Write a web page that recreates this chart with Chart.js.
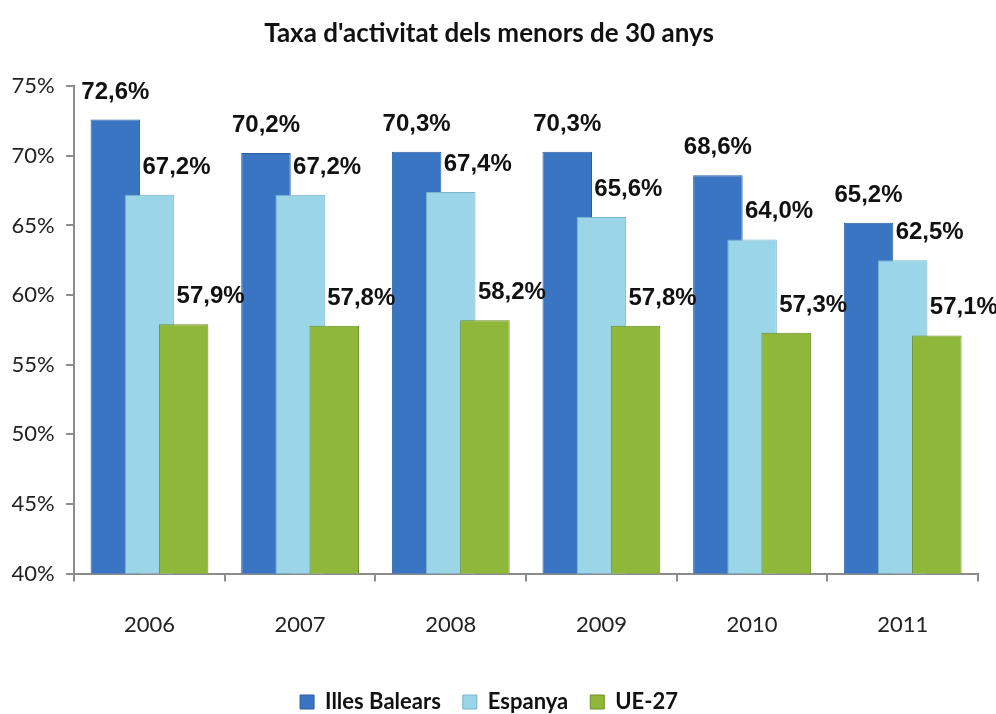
<!DOCTYPE html>
<html>
<head>
<meta charset="utf-8">
<script src="https://cdn.jsdelivr.net/npm/chart.js@4/dist/chart.umd.min.js"></script>
<style>
    html, body { margin: 0; padding: 0; background: #fff; }
    #wrap { width: 996px; height: 714px; }
</style>
</head>
<body>
<div id="wrap"><canvas id="chart"></canvas></div>
<script>
// Data
const years = ["2006", "2007", "2008", "2009", "2010", "2011"];
const illesBalears = [72.6, 70.2, 70.3, 70.3, 68.6, 65.2];
const espanya = [67.2, 67.2, 67.4, 65.6, 64.0, 62.5];
const ue27 = [57.9, 57.8, 58.2, 57.8, 57.3, 57.1];
const yTicks = [40, 45, 50, 55, 60, 65, 70, 75];

// Bars overlap: draw the first series at the back, the last one in front
const backToFront = {
    id: "backToFront",
    beforeDatasetsDraw(chart) {
        const area = chart.chartArea;
        const ctx = chart.ctx;
        ctx.save();
        ctx.beginPath();
        ctx.rect(area.left, area.top - 40, area.right - area.left, area.bottom - area.top + 40);
        ctx.clip();
        chart.getSortedVisibleDatasetMetas().forEach(meta => meta.controller.draw());
        ctx.restore();
        return false;
    }
};

// Value labels above each bar (Excel puts the 2nd/3rd labels a bit to the right)
const labelShift = [0, 27, 27];
const valueLabels = {
    id: "valueLabels",
    afterDraw(chart) {
        const ctx = chart.ctx;
        ctx.save();
        ctx.font = "bold 24px 'Liberation Sans', Arial, sans-serif";
        ctx.fillStyle = "#111";
        ctx.textAlign = "center";
        ctx.textBaseline = "alphabetic";
        chart.data.datasets.forEach((ds, i) => {
            const meta = chart.getDatasetMeta(i);
            meta.data.forEach((bar, j) => {
                const txt = ds.data[j].toFixed(1).replace(".", ",") + "%";
                ctx.fillText(txt, bar.x + labelShift[i], bar.y - 21);
            });
        });
        ctx.restore();
    }
};

const tickFont = { family: "Lato, 'Open Sans', sans-serif", size: 22 };

new Chart(document.getElementById("chart"), {
    type: "bar",
    data: {
        labels: years,
        datasets: [
            { label: "Illes Balears", data: illesBalears, backgroundColor: "#3a75c4", borderColor: "#2b5d9f", borderWidth: 1 },
            { label: "Espanya", data: espanya, backgroundColor: "#9bd5e8", borderColor: "#78b3c8", borderWidth: 1 },
            { label: "UE-27", data: ue27, backgroundColor: "#8fb83a", borderColor: "#6c8d27", borderWidth: 1 }
        ]
    },
    options: {
        responsive: true,
        maintainAspectRatio: false,
        animation: false,
        categoryPercentage: 0.68,
        barPercentage: 1.45,
        layout: { padding: { left: 0, right: 18, top: 0, bottom: -9 } },
        plugins: {
            title: {
                display: true,
                text: "Taxa d'activitat dels menors de 30 anys",
                color: "#111",
                font: { family: "Lato, sans-serif", size: 26, weight: "bold", lineHeight: 1.2 },
                padding: { top: 18, bottom: 37 }
            },
            legend: {
                position: "bottom",
                labels: {
                    color: "#111",
                    boxWidth: 14,
                    boxHeight: 14,
                    padding: 22,
                    font: { family: "Lato, sans-serif", size: 22, weight: "bold" }
                }
            },
            tooltip: { enabled: false }
        },
        scales: {
            y: {
                min: 40,
                max: 75,
                afterBuildTicks: axis => { axis.ticks = yTicks.map(v => ({ value: v })); },
                border: { color: "#8c8c8c", width: 2 },
                grid: { display: true, drawOnChartArea: false, color: "#8c8c8c", tickLength: 8, lineWidth: 2 },
                ticks: { color: "#222", font: tickFont, padding: 11.5, callback: v => v + "%" }
            },
            x: {
                afterFit: axis => { axis.height += 1; },
                border: { color: "#8c8c8c", width: 2 },
                grid: { display: true, drawOnChartArea: false, color: "#8c8c8c", tickLength: 8, lineWidth: 2 },
                ticks: { color: "#222", font: tickFont, padding: 30 }
            }
        }
    },
    plugins: [backToFront, valueLabels]
});
</script>
</body>
</html>
